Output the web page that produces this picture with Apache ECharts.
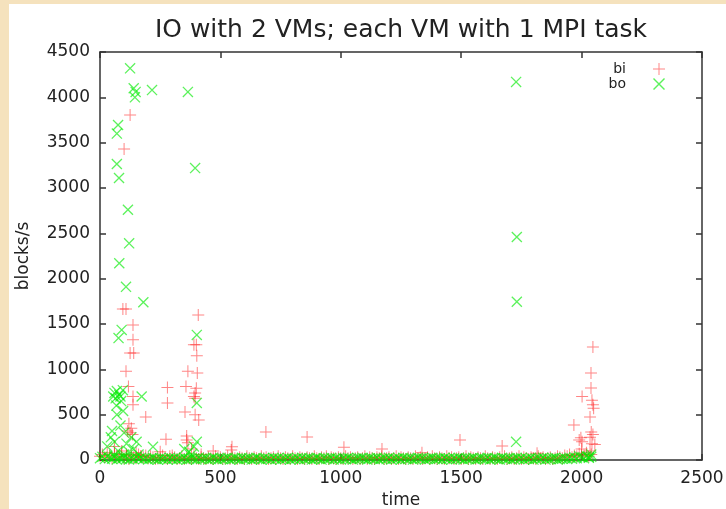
<!DOCTYPE html>
<html>
<head>
<meta charset="utf-8">
<script src="https://cdn.jsdelivr.net/npm/echarts@6/dist/echarts.min.js"></script>
<style>
html, body { margin: 0; padding: 0; background: #f5e2bd; }
#ioChart { width: 726px; height: 509px; }
</style>
</head>
<body>
<div id="ioChart"></div>
<script>
// baseline samples (time, blocks/s) - both counters sit near zero most of the run
var baseTime = [0, 10, 20, 30, 40, 50, 60, 70, 80, 90, 100, 110, 120, 130, 140, 150, 160, 170, 180, 190,
	200, 210, 220, 230, 240, 250, 260, 270, 280, 290, 300, 310, 320, 330, 340, 350, 360, 370, 380, 390,
	400, 410, 420, 430, 440, 450, 460, 470, 480, 490, 500, 510, 520, 530, 540, 550, 560, 570, 580, 590,
	600, 610, 620, 630, 640, 650, 660, 670, 680, 690, 700, 710, 720, 730, 740, 750, 760, 770, 780, 790,
	800, 810, 820, 830, 840, 850, 860, 870, 880, 890, 900, 910, 920, 930, 940, 950, 960, 970, 980, 990,
	1000, 1010, 1020, 1030, 1040, 1050, 1060, 1070, 1080, 1090, 1100, 1110, 1120, 1130, 1140, 1150, 1160, 1170, 1180, 1190,
	1200, 1210, 1220, 1230, 1240, 1250, 1260, 1270, 1280, 1290, 1300, 1310, 1320, 1330, 1340, 1350, 1360, 1370, 1380, 1390,
	1400, 1410, 1420, 1430, 1440, 1450, 1460, 1470, 1480, 1490, 1500, 1510, 1520, 1530, 1540, 1550, 1560, 1570, 1580, 1590,
	1600, 1610, 1620, 1630, 1640, 1650, 1660, 1670, 1680, 1690, 1700, 1710, 1720, 1730, 1740, 1750, 1760, 1770, 1780, 1790,
	1800, 1810, 1820, 1830, 1840, 1850, 1860, 1870, 1880, 1890, 1900, 1910, 1920, 1930, 1940, 1950, 1960, 1970, 1980, 1990,
	2000, 2010, 2020, 2030, 2040];
var boBase = [20, 35, 10, 40, 25, 15, 30, 5, 20, 10, 25, 15, 5, 20, 10, 30, 15, 25, 10, 20,
	5, 15, 25, 10, 5, 20, 10, 15, 5, 25, 10, 20, 5, 15, 10, 25, 5, 10, 20, 15,
	5, 25, 10, 15, 20, 5, 10, 25, 15, 5, 20, 10, 15, 25, 5, 10, 20, 15, 5, 25,
	10, 15, 20, 5, 10, 25, 15, 5, 20, 10, 15, 5, 25, 10, 20, 5, 15, 10, 25, 5,
	15, 10, 20, 5, 25, 10, 15, 20, 5, 10, 25, 15, 5, 20, 10, 15, 25, 5, 20, 10,
	5, 20, 10, 25, 15, 5, 10, 20, 15, 25, 10, 5, 20, 15, 10, 25, 5, 15, 20, 10,
	25, 5, 15, 10, 20, 5, 25, 15, 10, 20, 5, 10, 25, 15, 20, 5, 10, 15, 25, 10,
	15, 20, 5, 25, 10, 15, 5, 20, 10, 25, 15, 5, 20, 10, 15, 25, 5, 10, 20, 15,
	10, 25, 5, 15, 20, 10, 5, 25, 15, 10, 20, 5, 15, 25, 10, 20, 5, 15, 10, 25,
	5, 15, 20, 10, 25, 5, 15, 10, 20, 25, 5, 10, 15, 20, 10, 25, 15, 30, 20, 40,
	30, 20, 40, 25, 35];
var biBase = [40, 60, 30, 80, 50, 20, 70, 40, 30, 60, 20, 40, 10, 50, 30, 20, 60, 40, 30, 50,
	20, 40, 30, 10, 20, 30, 50, 20, 10, 40, 20, 30, 10, 20, 40, 10, 30, 20, 10, 40,
	20, 10, 30, 20, 10, 30, 20, 10, 40, 20, 30, 10, 20, 40, 10, 30, 20, 10, 30, 20,
	10, 40, 20, 10, 30, 20, 10, 40, 20, 30, 10, 20, 30, 10, 40, 20, 10, 30, 20, 10,
	40, 20, 10, 30, 20, 10, 30, 20, 10, 40, 20, 10, 30, 20, 40, 10, 30, 20, 10, 30,
	20, 10, 40, 20, 30, 10, 20, 30, 10, 20, 40, 10, 30, 20, 10, 30, 20, 40, 10, 20,
	30, 10, 20, 40, 10, 30, 20, 10, 30, 20, 10, 40, 20, 30, 10, 20, 30, 10, 40, 20,
	10, 30, 20, 10, 40, 20, 30, 10, 20, 30, 10, 20, 40, 10, 30, 20, 10, 30, 20, 10,
	40, 20, 10, 30, 20, 10, 30, 20, 40, 10, 20, 30, 10, 20, 40, 10, 30, 20, 10, 30,
	20, 10, 40, 20, 30, 10, 20, 30, 10, 20, 40, 30, 20, 50, 40, 60, 30, 50, 40, 70,
	60, 50, 80, 40, 60];

// bursts above the baseline
var boSpikeTime = [125, 140, 148, 145, 216, 365, 75, 70, 70, 79, 395, 116, 121, 80, 108, 180, 90, 77, 402, 402,
	173, 55, 60, 65, 70, 80, 88, 95, 68, 85, 70, 96, 220, 152, 402, 1728, 1731, 1731, 1728,
	30, 45, 50, 60, 75, 85, 100, 110, 120, 130, 140, 160, 350, 370, 380, 390, 60, 100, 2040, 2030];
var boSpikeVal = [4320, 4100, 4060, 4000, 4080, 4060, 3695, 3600, 3265, 3110, 3220, 2760, 2390, 2170, 1910, 1740, 1435, 1345, 1380, 630,
	700, 700, 740, 680, 760, 720, 650, 770, 600, 700, 500, 540, 145, 200, 200, 4170, 2460, 1745, 200,
	150, 250, 320, 200, 100, 380, 300, 180, 90, 250, 120, 60, 120, 90, 60, 150, 50, 60, 60, 30];

var biSpikeTime = [125, 100, 95, 108, 137, 137, 125, 140, 108, 118, 137, 137, 120, 130, 125, 135, 115, 190, 280, 280,
	274, 360, 360, 365, 408, 390, 400, 402, 404, 365, 357, 400, 395, 390, 395, 353, 395, 410, 548, 545,
	689, 860, 1013, 1171, 1337, 1495, 1670, 1815, 2047, 2039, 2039, 2002, 2043, 2047, 2050, 2035, 1968, 2040, 2047, 2035,
	1997, 1990, 2002, 2043, 2055, 2000, 2035, 60, 90, 110, 150, 170, 250, 300, 380, 420, 470];
var biSpikeVal = [3805, 3430, 1665, 1665, 1490, 1325, 1180, 1180, 980, 810, 700, 610, 400, 350, 300, 280, 320, 475, 800, 630,
	230, 265, 220, 190, 1600, 1270, 1270, 1150, 960, 980, 810, 790, 740, 700, 680, 530, 500, 440, 145, 110,
	310, 255, 140, 120, 80, 220, 155, 75, 1245, 960, 795, 700, 660, 610, 570, 475, 385, 310, 280, 250,
	245, 220, 200, 180, 170, 120, 100, 150, 100, 60, 80, 40, 90, 50, 120, 60, 100];

var xTicks = [0, 500, 1000, 1500, 2000, 2500];
var yTicks = [0, 500, 1000, 1500, 2000, 2500, 3000, 3500, 4000, 4500];

function pairs(t, v) {
	var out = [];
	for (var i = 0; i < t.length; i++) out.push([t[i], v[i]]);
	return out;
}

var biData = pairs(baseTime, biBase).concat(pairs(biSpikeTime, biSpikeVal));
var boData = pairs(baseTime, boBase).concat(pairs(boSpikeTime, boSpikeVal));

var plusPath = 'path://M0,5.5h12v1h-12z M5.5,0h1v12h-1z';
var crossPath = 'path://M0,1L1,0L12,11L11,12Z M11,0L12,1L1,12L0,11Z';

var font = 'DejaVu Sans';
var ink = '#222';
var frame = { color: '#333', width: 1.5 };

function plain(v) { return String(v); }

function axisX(pos, labels) {
	return {
		type: 'value', position: pos, min: xTicks[0], max: xTicks[xTicks.length - 1], interval: 500,
		name: labels ? 'time' : '', nameLocation: 'middle', nameGap: 27,
		nameTextStyle: { color: ink, fontFamily: font, fontSize: 17 },
		axisLine: { show: true, onZero: false, lineStyle: frame },
		axisTick: { show: true, inside: true, length: 6, lineStyle: frame },
		axisLabel: { show: labels, margin: 10, color: ink, fontFamily: font, fontSize: 17, formatter: plain },
		splitLine: { show: false }
	};
}
function axisY(pos, labels) {
	return {
		type: 'value', position: pos, min: yTicks[0], max: yTicks[yTicks.length - 1], interval: 500,
		name: labels ? 'blocks/s' : '', nameLocation: 'middle', nameGap: 68, nameRotate: 90,
		nameTextStyle: { color: ink, fontFamily: font, fontSize: 17 },
		axisLine: { show: true, onZero: false, lineStyle: frame },
		axisTick: { show: true, inside: true, length: 6, lineStyle: frame },
		axisLabel: { show: labels, margin: 10, color: ink, fontFamily: font, fontSize: 17, formatter: plain },
		splitLine: { show: false }
	};
}

var myChart = echarts.init(document.getElementById('ioChart'));
myChart.setOption({
	animation: false,
	backgroundColor: '#f5e2bd',
	graphic: [{
		type: 'rect', left: 9, top: 4, z: -10, silent: true,
		shape: { width: 717, height: 505 },
		style: { fill: '#ffffff' }
	}],
	title: {
		text: 'IO with 2 VMs; each VM with 1 MPI task',
		left: 401, top: 18, textAlign: 'center', padding: 0,
		textStyle: { color: ink, fontFamily: font, fontSize: 25, fontWeight: 'normal' }
	},
	legend: {
		orient: 'vertical', right: 56, top: 57, align: 'right',
		itemWidth: 12, itemHeight: 12, itemGap: 1,
		textStyle: { color: ink, fontFamily: font, fontSize: 14, lineHeight: 14, padding: [0, 22, 0, 0] },
		data: [{ name: 'bi', icon: plusPath }, { name: 'bo', icon: crossPath }]
	},
	grid: { left: 100, right: 24, top: 52, bottom: 49, outerBoundsMode: 'none' },
	xAxis: [axisX('bottom', true), axisX('top', false)],
	yAxis: [axisY('left', true), axisY('right', false)],
	series: [{
		name: 'bi', type: 'scatter', clip: false,
		symbol: plusPath, symbolSize: 12,
		itemStyle: { color: 'rgba(255,0,0,0.6)' },
		data: biData
	}, {
		name: 'bo', type: 'scatter', clip: false,
		symbol: crossPath, symbolSize: 11,
		itemStyle: { color: 'rgba(0,235,0,0.8)' },
		data: boData
	}]
});
</script>
</body>
</html>
